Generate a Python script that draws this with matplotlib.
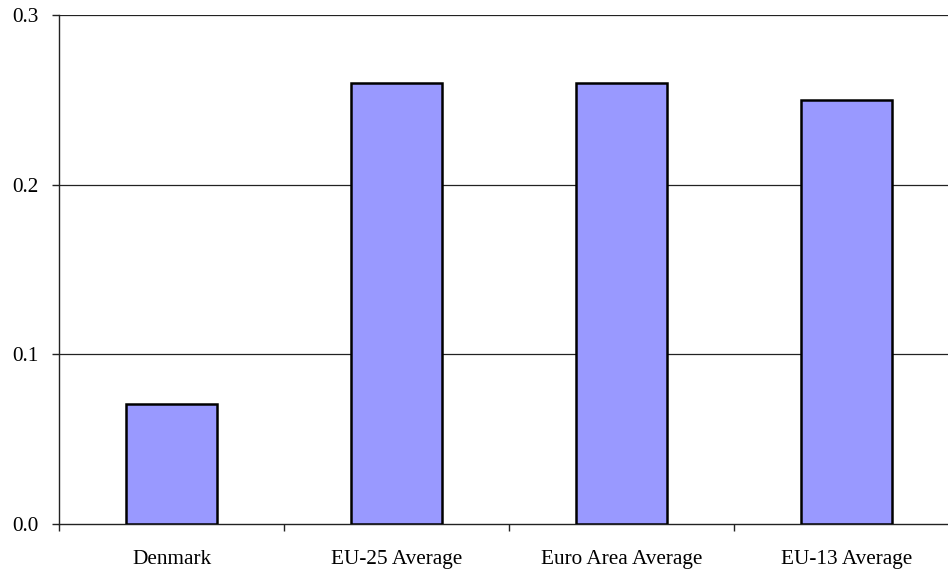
import matplotlib
matplotlib.use("Agg")
import matplotlib.pyplot as plt
import numpy as np

categories = ["Denmark", "EU-25 Average", "Euro Area Average", "EU-13 Average"]
values = [0.071, 0.26, 0.26, 0.25]
y_ticks = [0.0, 0.1, 0.2, 0.3]
y_tick_labels = ["0.0", "0.1", "0.2", "0.3"]

plt.rcParams["font.family"] = ["Liberation Serif", "DejaVu Serif"]

fig = plt.figure(figsize=(9.48, 5.71), dpi=100)
# the plot area runs past the right edge of the figure
ax = fig.add_axes([59 / 948, 47 / 571, 900 / 948, 509 / 571])

x = np.arange(len(categories))
ax.bar(x, values, width=0.405, color="#9999FF", edgecolor="black",
       linewidth=1.8, zorder=3)

ax.set_xlim(-0.5, len(categories) - 0.5)
ax.set_ylim(0, 0.3)

ax.set_yticks(y_ticks)
ax.set_yticklabels(y_tick_labels)
for yv in y_ticks[1:]:
    ax.axhline(yv, color="#222222", linewidth=0.9, zorder=1)

# category boundary ticks, labels centred on the bars
ax.set_xticks(np.arange(len(categories) + 1) - 0.5)
ax.set_xticklabels([])
ax.set_xticks(x, minor=True)
ax.set_xticklabels(categories, minor=True)
ax.tick_params(axis="x", which="minor", length=0, pad=19, labelsize=15.3)
ax.tick_params(axis="x", which="major", length=5, width=1, color="#222222")
ax.tick_params(axis="y", length=5, width=1, color="#222222", pad=10, labelsize=15.3)

for side in ("top", "right"):
    ax.spines[side].set_visible(False)
ax.spines["left"].set_color("#222222")
ax.spines["bottom"].set_color("#222222")
ax.spines["left"].set_linewidth(1.0)
ax.spines["bottom"].set_linewidth(1.0)

fig.savefig("out.png", dpi=100)
